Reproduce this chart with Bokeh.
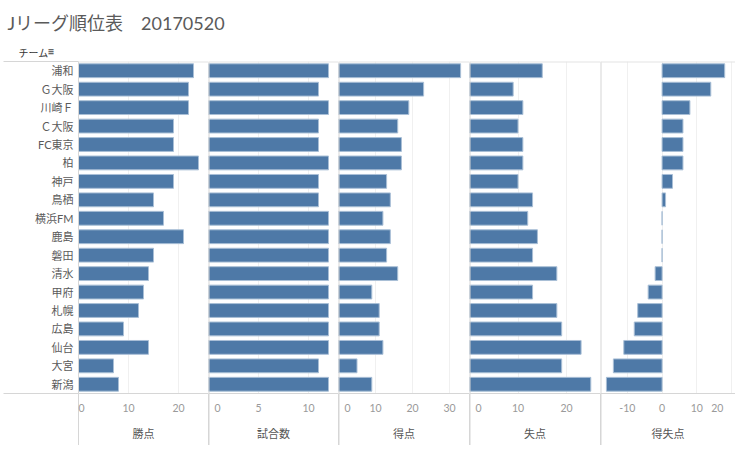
from bokeh.plotting import figure
from bokeh.layouts import column, row
from bokeh.models import Range1d, FixedTicker, Span, Label, ColumnDataSource
from bokeh.embed import file_html
from bokeh.resources import INLINE

# ---- data ----
teams = ["浦和", "Ｇ大阪", "川崎Ｆ", "Ｃ大阪", "FC東京", "柏", "神戸", "鳥栖", "横浜FM",
         "鹿島", "磐田", "清水", "甲府", "札幌", "広島", "仙台", "大宮", "新潟"]
points = [23, 22, 22, 19, 19, 24, 19, 15, 17, 21, 15, 14, 13, 12, 9, 14, 7, 8]
matches = [12, 11, 12, 11, 11, 12, 11, 11, 12, 12, 12, 12, 12, 12, 12, 12, 11, 12]
goals_for = [33, 23, 19, 16, 17, 17, 13, 14, 12, 14, 13, 16, 9, 11, 11, 12, 5, 9]
goals_against = [15, 9, 11, 10, 11, 11, 10, 13, 12, 14, 13, 18, 13, 18, 19, 23, 19, 25]
goal_diff = [18, 14, 8, 6, 6, 6, 3, 1, 0, 0, 0, -2, -4, -7, -8, -11, -14, -16]

measure_names = ["勝点", "試合数", "得点", "失点", "得失点"]
measure_ticks = [[0, 10, 20], [0, 5, 10], [0, 10, 20, 30], [0, 10, 20], [-10, 0, 10, 20]]
title_text = "Jリーグ順位表　20170520"
header_text = "チーム"

# ---- styling / layout ----
BAR = "#4e79a7"
EDGE = "#a9bfd6"
DIV = "#d6d6d6"
GRID = "#f0f0f0"
TOPLINE = "#e3e3e3"
LAT = "Lato, 'Noto Sans CJK JP', sans-serif"
JP = "'Noto Sans CJK JP', sans-serif"
FSP = "\u2007"

values = [points, matches, goals_for, goals_against, goal_diff]
x_ranges = [(0, 26), (0, 13), (0, 35.4), (0, 27), (-17.7, 21.1)]
frame_widths = [130, 130, 131, 131, 135]
FRAME_H = 332
BOTTOM = 52
LEFT = 78
HEADER_H = 60

n = len(teams)
ypos = list(range(n))

# header
hdr = figure(width=LEFT + sum(frame_widths), height=HEADER_H,
             x_range=Range1d(0, LEFT + sum(frame_widths)), y_range=Range1d(HEADER_H, 0),
             output_backend="svg", toolbar_location=None, min_border=0,
             x_axis_location=None, y_axis_location=None, outline_line_color=None)
hdr.xgrid.visible = False
hdr.ygrid.visible = False
hdr.add_layout(Label(x=7, y=22.5, text=title_text, text_font=LAT, text_font_size="18px",
                     text_color="#5a5a5a", text_baseline="middle", text_align="left"))
hdr.add_layout(Label(x=18, y=52, text=header_text, text_font=JP, text_font_size="10px",
                     text_color="#333333", text_baseline="middle", text_align="left"))
hdr.add_layout(Label(x=47, y=51, text="\u2261", text_font=LAT, text_font_size="12px",
                     text_color="#444444", text_baseline="middle", text_align="left"))

figs = []
for i in range(5):
    xs, xe = x_ranges[i]
    p = figure(frame_width=frame_widths[i], frame_height=FRAME_H,
               x_range=Range1d(xs, xe), y_range=Range1d(n - 0.5, -0.5),
               output_backend="svg", toolbar_location=None,
               min_border=0, min_border_top=1, min_border_bottom=BOTTOM,
               min_border_left=LEFT if i == 0 else 0,
               y_axis_location="left" if i == 0 else None,
               outline_line_color=None, background_fill_color="white")
    src = ColumnDataSource(dict(y=ypos, v=values[i], z=[0] * n))
    p.hbar(y="y", left="z", right="v", height=0.75, source=src,
           fill_color=BAR, line_color=EDGE, line_width=1)

    ax = p.xaxis[0]
    ax.ticker = FixedTicker(ticks=measure_ticks[i], minor_ticks=[xs])
    ax.axis_label = measure_names[i]
    ax.axis_line_color = DIV
    ax.major_tick_line_color = None
    ax.major_tick_out = 0
    ax.major_tick_in = 0
    ax.minor_tick_in = 0
    ax.minor_tick_out = BOTTOM
    ax.minor_tick_line_color = DIV
    ax.minor_tick_line_width = 1 if i == 0 else 2
    ax.major_label_text_font = LAT
    ax.major_label_text_font_size = "10.5px"
    ax.major_label_text_color = "#9a9a9a"
    ax.major_label_standoff = 8 - BOTTOM
    ax.axis_label_text_font = JP
    ax.axis_label_text_font_size = "11px"
    ax.axis_label_text_font_style = "normal"
    ax.axis_label_text_color = "#555555"
    ax.axis_label_standoff = 8
    if i < 4:
        ax.major_label_overrides = {0: FSP + "0"}
    else:
        ax.major_label_overrides = {-10: "-10", 20: "20" + FSP + FSP}

    p.xgrid.grid_line_color = GRID
    p.ygrid.grid_line_color = None

    if i == 0:
        ya = p.yaxis[0]
        ya.ticker = FixedTicker(ticks=ypos, minor_ticks=[-0.5, n - 0.5])
        ya.major_label_overrides = {k: t for k, t in zip(ypos, teams)}
        ya.major_tick_line_color = None
        ya.major_tick_out = 0
        ya.major_tick_in = 0
        ya.minor_tick_in = 0
        ya.minor_tick_out = LEFT - 3
        ya.minor_tick_line_color = DIV
        ya.axis_line_color = DIV
        ya.major_label_standoff = 5 - (LEFT - 3)
        ya.major_label_text_font = LAT
        ya.major_label_text_font_size = "11px"
        ya.major_label_text_color = "#5a5a5a"
    else:
        p.add_layout(Span(location=xs, dimension="height", line_color=DIV, line_width=2))

    p.add_layout(Span(location=-0.5, dimension="width", line_color=TOPLINE, line_width=2))
    figs.append(p)

layout = column(hdr, row(*figs, spacing=0), spacing=0)

with open("out.html", "w") as f:
    f.write(file_html(layout, INLINE))
